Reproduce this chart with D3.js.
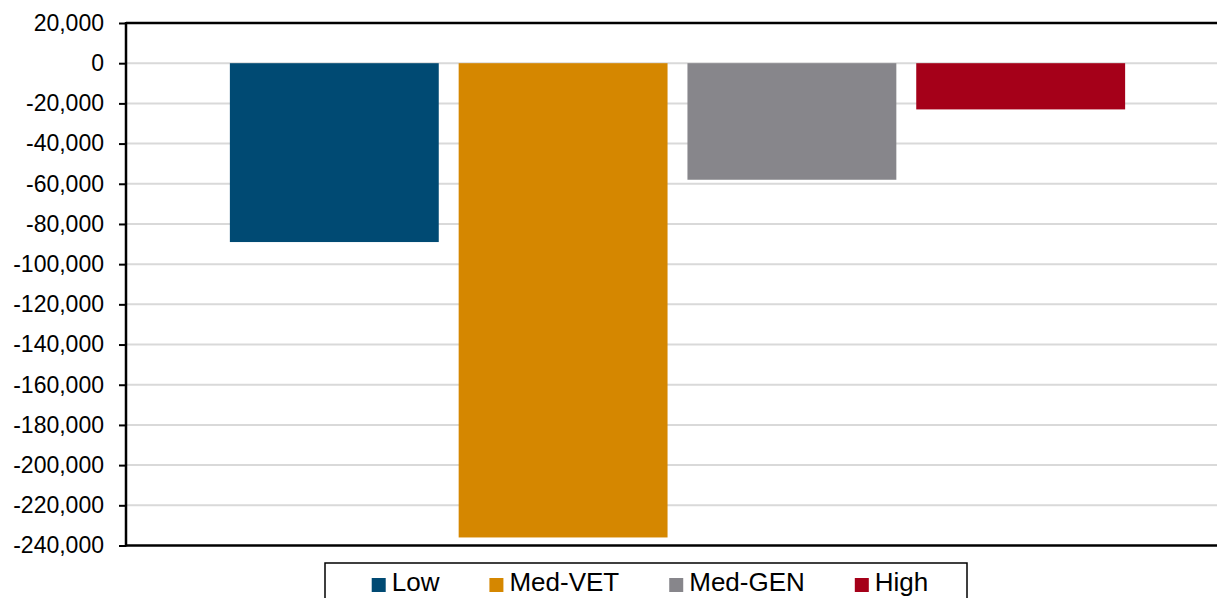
<!DOCTYPE html>
<html>
<head>
<meta charset="utf-8">
<script src="https://cdn.jsdelivr.net/npm/d3@7"></script>
<style>
  body { margin: 0; background: #fff; }
  svg text { font-family: "Liberation Sans", Arial, sans-serif; fill: #000; }
</style>
</head>
<body>
<div id="chart"></div>
<script>
var series = ["Low", "Med-VET", "Med-GEN", "High"],
    values = [-89000, -236000, -58000, -23000],
    colors = ["#004a73", "#d58700", "#87868b", "#a50019"],
    yTicks = [20000, 0, -20000, -40000, -60000, -80000, -100000, -120000,
              -140000, -160000, -180000, -200000, -220000, -240000];

var width = 1217, height = 598,
    plot = { left: 126, right: 1229, top: 23, bottom: 545.5 };

var svg = d3.select("#chart").append("svg")
    .attr("width", width)
    .attr("height", height);

var y = d3.scaleLinear()
    .domain([20000, -240000])
    .range([plot.top, plot.bottom]);

var x = d3.scaleBand()
    .domain(series)
    .range([plot.left, plot.right])
    .paddingInner(0.087)
    .paddingOuter(0.454);

// gridlines
svg.append("g").selectAll("line")
  .data(yTicks.slice(1, -1))
  .enter().append("line")
    .attr("x1", plot.left)
    .attr("x2", width)
    .attr("y1", function(d) { return y(d); })
    .attr("y2", function(d) { return y(d); })
    .attr("stroke", "#d9d9d9")
    .attr("stroke-width", 2);

// bars
svg.append("g").selectAll("rect")
  .data(values)
  .enter().append("rect")
    .attr("x", function(d, i) { return x(series[i]); })
    .attr("width", x.bandwidth())
    .attr("y", y(0))
    .attr("height", function(d) { return y(d) - y(0); })
    .attr("fill", function(d, i) { return colors[i]; });

// top border and bottom axis line
svg.append("line")
  .attr("x1", plot.left).attr("x2", width)
  .attr("y1", plot.top).attr("y2", plot.top)
  .attr("stroke", "#000").attr("stroke-width", 2.5);
svg.append("line")
  .attr("x1", plot.left).attr("x2", width)
  .attr("y1", plot.bottom).attr("y2", plot.bottom)
  .attr("stroke", "#000").attr("stroke-width", 2.5);

// left axis
var yAxis = d3.axisLeft(y)
    .tickValues(yTicks)
    .tickSize(7)
    .tickPadding(15)
    .tickFormat(d3.format(","));

var gy = svg.append("g")
    .attr("transform", "translate(" + plot.left + ",0)")
    .call(yAxis);
gy.select(".domain").remove();
gy.append("line")
  .attr("y1", plot.top - 1).attr("y2", plot.bottom + 1)
  .attr("stroke", "#000").attr("stroke-width", 2.5);
gy.selectAll(".tick line").attr("stroke", "#000").attr("stroke-width", 2);
gy.selectAll(".tick text")
  .attr("font-size", 23)
  .style("font-family", "'Liberation Sans', Arial, sans-serif")
  .text(function(d) { return d3.format(",")(d).replace("−", "-"); });

// legend
var legend = { left: 325, right: 967, top: 563 };
svg.append("rect")
  .attr("x", legend.left)
  .attr("y", legend.top)
  .attr("width", legend.right - legend.left)
  .attr("height", 60)
  .attr("fill", "#fff")
  .attr("stroke", "#000")
  .attr("stroke-width", 1.5);

var items = svg.append("g").selectAll("g")
  .data(series)
  .enter().append("g");

items.append("rect")
  .attr("width", 14).attr("height", 14)
  .attr("y", 578)
  .attr("fill", function(d, i) { return colors[i]; });

items.append("text")
  .attr("x", 20)
  .attr("y", 591)
  .attr("font-size", 26)
  .text(function(d) { return d; });

var itemGap = 50, pos = [], total = 0;
items.each(function(d, i) {
  var w = 20 + d3.select(this).select("text").node().getComputedTextLength();
  pos.push(total);
  total += w + (i < series.length - 1 ? itemGap : 0);
});
var start = (legend.left + legend.right) / 2 - total / 2 + 4;
items.attr("transform", function(d, i) { return "translate(" + (start + pos[i]) + ",0)"; });
</script>
</body>
</html>
